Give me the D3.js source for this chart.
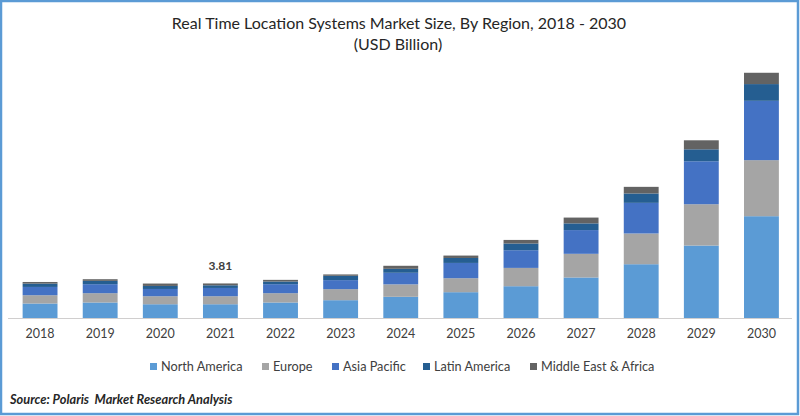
<!DOCTYPE html>
<html>
<head>
<meta charset="utf-8">
<script src="https://cdn.jsdelivr.net/npm/d3@7"></script>
<style>
  html, body { margin: 0; padding: 0; background: #fff; }
  svg { display: block; font-family: Lato, sans-serif; }
</style>
</head>
<body>
<svg id="chart"></svg>
<script>
const years = ["2018", "2019", "2020", "2021", "2022", "2023", "2024", "2025", "2026", "2027", "2028", "2029", "2030"];
const regions = ["North America", "Europe", "Asia Pacific", "Latin America", "Middle East & Africa"];
const northAmerica = [1.63, 1.74, 1.55, 1.55, 1.74, 1.99, 2.36, 2.86, 3.51, 4.46, 5.90, 7.93, 11.12];
const europe = [0.90, 1.01, 0.87, 0.87, 1.01, 1.20, 1.35, 1.52, 1.99, 2.57, 3.34, 4.49, 6.09];
const asiaPacific = [0.90, 0.98, 0.79, 0.90, 0.98, 0.98, 1.26, 1.66, 1.92, 2.58, 3.33, 4.67, 6.45];
const latinAmerica = [0.36, 0.36, 0.33, 0.29, 0.29, 0.47, 0.43, 0.54, 0.73, 0.73, 1.02, 1.30, 1.82];
const middleEast = [0.18, 0.18, 0.26, 0.20, 0.18, 0.15, 0.33, 0.26, 0.39, 0.63, 0.72, 0.98, 1.23];
const colors = ["#5b9bd5", "#a5a5a5", "#4472c4", "#255e91", "#636363"];
const labelled = { year: "2021", text: "3.81" };

const width = 800, height = 416;
const seriesValues = [northAmerica, europe, asiaPacific, latinAmerica, middleEast];

const rows = years.map((year, i) => {
  const row = { year };
  regions.forEach((r, j) => { row[r] = seriesValues[j][i]; });
  return row;
});

const svg = d3.select("#chart").attr("width", width).attr("height", height);

svg.append("rect")
  .attr("x", 1).attr("y", 1)
  .attr("width", width - 3).attr("height", height - 3)
  .attr("fill", "#fff")
  .attr("stroke", "#5b9bd5")
  .attr("stroke-width", 2.5);

const x = d3.scaleBand().domain(years).range([10, 791.5]).paddingInner(0.42).paddingOuter(0.21);
const y = d3.scaleLinear().domain([0, 30]).range([318.5, 42.5]);

const stack = d3.stack().keys(regions)(rows);

svg.append("g")
  .selectAll("g")
  .data(stack)
  .join("g")
  .attr("fill", (d, i) => colors[i])
  .selectAll("rect")
  .data(d => d)
  .join("rect")
  .attr("x", d => x(d.data.year))
  .attr("y", d => y(d[1]))
  .attr("width", x.bandwidth())
  .attr("height", d => y(d[0]) - y(d[1]));

const axis = svg.append("g")
  .attr("transform", `translate(0,${y(0)})`)
  .call(d3.axisBottom(x).tickSize(0).tickPadding(11));
axis.select(".domain").attr("stroke", "#d0cece").attr("d", "M8,0H792");
axis.selectAll("text")
  .attr("font-family", "Lato, sans-serif")
  .attr("font-size", 12.5)
  .attr("fill", "#404040");

// the single total printed in the source
const labelRow = rows.find(r => r.year === labelled.year);
svg.append("text")
  .attr("x", x(labelled.year) + x.bandwidth() / 2)
  .attr("y", y(d3.sum(regions, r => labelRow[r])) - 13)
  .attr("text-anchor", "middle")
  .attr("font-size", 12)
  .attr("font-weight", 700)
  .attr("fill", "#404040")
  .text(labelled.text);

svg.append("text")
  .attr("x", 399).attr("y", 29)
  .attr("text-anchor", "middle")
  .attr("font-size", 16)
  .attr("fill", "#262626")
  .text("Real Time Location Systems Market Size, By Region, 2018 - 2030");
svg.append("text")
  .attr("x", 398).attr("y", 50)
  .attr("text-anchor", "middle")
  .attr("font-size", 16)
  .attr("fill", "#262626")
  .text("(USD Billion)");

// legend positions follow the source's uneven spacing
const legendX = d3.scaleOrdinal().domain(regions).range([150, 262, 332, 423, 530]);
const legend = svg.append("g")
  .selectAll("g")
  .data(regions)
  .join("g")
  .attr("transform", d => `translate(${legendX(d)},363)`);
legend.append("rect")
  .attr("width", 7).attr("height", 7)
  .attr("fill", (d, i) => colors[i]);
legend.append("text")
  .attr("x", 11).attr("y", 8)
  .attr("font-size", 12.7)
  .attr("fill", "#404040")
  .text(d => d);

svg.append("text")
  .attr("x", 10).attr("y", 404)
  .attr("font-size", 12.8)
  .attr("font-weight", 700)
  .attr("font-style", "italic")
  .attr("fill", "#262626")
  .style("white-space", "pre")
  .text("Source: Polaris  Market Research Analysis");
</script>
</body>
</html>
